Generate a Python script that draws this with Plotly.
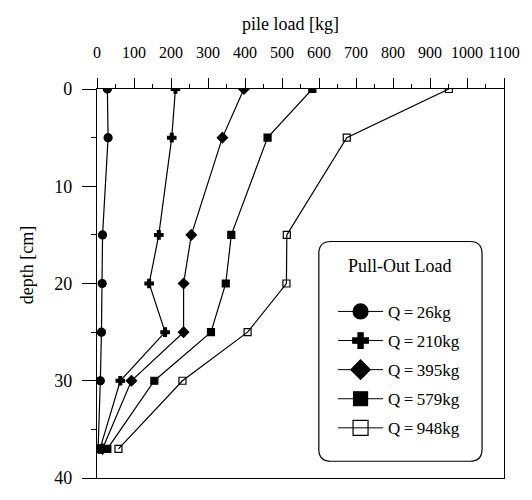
import plotly.graph_objects as go

depth = [0, 5, 15, 20, 25, 30, 37]
q26 = [28, 30, 15, 14, 12, 9, 3]
q210 = [212, 202, 167, 141, 184, 63, 8]
q395 = [397, 339, 255, 234, 234, 93, 15]
q579 = [582, 461, 363, 348, 308, 155, 28]
q948 = [951, 675, 513, 512, 407, 231, 58]

series = [
    ("Q\u2009=\u200926kg", q26, "circle", 8, 15),
    ("Q\u2009=\u2009210kg", q210, "cross", 7, 13),
    ("Q\u2009=\u2009395kg", q395, "diamond", 8, 15),
    ("Q\u2009=\u2009579kg", q579, "square", 7, 14),
    ("Q\u2009=\u2009948kg", q948, "square-open", 7, 15),
]

FONT = "Liberation Serif"
fig = go.Figure()
for name, vals, sym, ms, lms in series:
    fig.add_trace(go.Scatter(
        x=vals, y=depth, mode="lines+markers", name=name, showlegend=False,
        line=dict(color="black", width=1.2),
        marker=dict(symbol=sym, size=ms, color="black",
                    line=dict(color="black", width=1.2)),
    ))
for i, (name, vals, sym, ms, lms) in enumerate(series):
    fig.add_trace(go.Scatter(
        x=[None], y=[None], mode="lines+markers", name=name, legendgroup=f"g{i}",
        line=dict(color="black", width=1),
        marker=dict(symbol=sym, size=lms, color="black",
                    line=dict(color="black", width=1.2)),
    ))

x0, x1, y0, y1 = 0.545, 0.946, 0.043, 0.608
rx, ry = 0.03, 0.031
path = (f"M {x0+rx},{y0} L {x1-rx},{y0} Q {x1},{y0} {x1},{y0+ry} "
        f"L {x1},{y1-ry} Q {x1},{y1} {x1-rx},{y1} L {x0+rx},{y1} "
        f"Q {x0},{y1} {x0},{y1-ry} L {x0},{y0+ry} Q {x0},{y0} {x0+rx},{y0} Z")
fig.add_shape(type="path", path=path, xref="paper", yref="paper",
              line=dict(color="black", width=1.2), fillcolor="rgba(0,0,0,0)")
fig.add_annotation(text="Pull-Out Load", xref="paper", yref="paper",
                   x=(x0 + x1) / 2, y=(482 - 268) / 393, xanchor="center", yanchor="middle",
                   showarrow=False, font=dict(family=FONT, size=18))
fig.add_annotation(text="depth [cm]", xref="paper", yref="paper",
                   x=(27 - 97) / 407, y=(482 - 267) / 393, xanchor="center", yanchor="middle",
                   textangle=-90, showarrow=False, font=dict(family=FONT, size=18))
fig.add_annotation(text="pile load [kg]", xref="paper", yref="paper",
                   x=(290 - 97) / 407, y=(482 - 23) / 393, xanchor="center", yanchor="middle",
                   showarrow=False, font=dict(family=FONT, size=18))

fig.update_layout(
    width=532, height=500,
    margin=dict(l=97, r=28, t=89, b=18),
    paper_bgcolor="white", plot_bgcolor="white",
    font=dict(family=FONT, color="black", size=16),
    xaxis=dict(
        side="top", range=[0, 1100], dtick=100, tick0=0,
        showgrid=False, zeroline=False,
        showline=True, linecolor="black", linewidth=1.2, mirror=True,
        ticks="outside", ticklen=10, tickwidth=1, tickcolor="black",
        ticklabelstandoff=14,
        minor=dict(dtick=50, ticks="outside", ticklen=4, tickcolor="black"),
        tickfont=dict(family=FONT, size=16),
    ),
    yaxis=dict(
        range=[40, 0], dtick=10, tick0=0,
        showgrid=False, zeroline=False,
        showline=True, linecolor="black", linewidth=1.2, mirror=True,
        ticks="outside", ticklen=14, tickwidth=1, tickcolor="black",
        ticklabelstandoff=6,
        minor=dict(dtick=5, ticks="outside", ticklen=5, tickcolor="black"),
        tickfont=dict(family=FONT, size=18),
    ),
    legend=dict(
        x=x0 + 0.035, y=(482 - 296) / 393, xanchor="left", yanchor="top",
        bgcolor="rgba(0,0,0,0)", borderwidth=0,
        font=dict(family=FONT, size=17),
        itemwidth=45, tracegroupgap=4,
    ),
)
fig.write_html("out.html")
